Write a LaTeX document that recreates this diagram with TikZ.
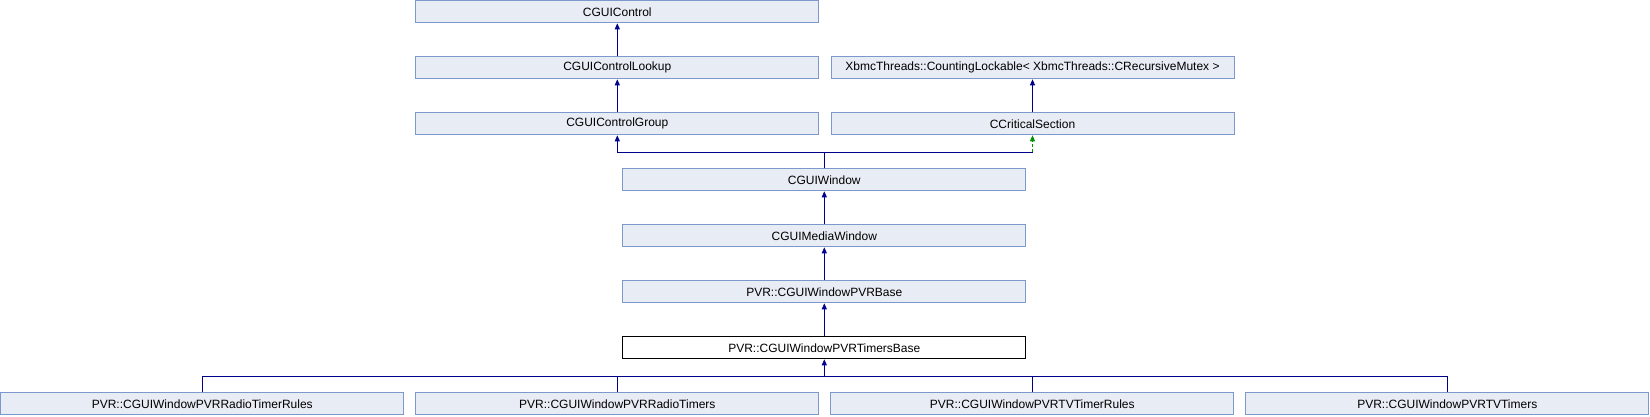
\documentclass[tikz,border=0pt]{standalone}
\usepackage{fontspec}
\setmainfont{Liberation Sans}
\usetikzlibrary{arrows.meta}
\definecolor{boxfill}{HTML}{E8ECF4}
\definecolor{boxline}{HTML}{7C98CC}
\definecolor{edgeblue}{HTML}{00008B}
\definecolor{edgegreen}{HTML}{009000}
\begin{document}
\begin{tikzpicture}[x=1pt,y=-1pt,
  cls/.style={draw=boxline, fill=boxfill, line width=1pt, minimum width=403pt, minimum height=22pt, inner sep=0pt, font=\fontsize{12}{14}\selectfont},
  cur/.style={cls, draw=black, fill=white},
  edge/.style={draw=edgeblue, line width=1pt},
  tip/.style={-{Triangle[width=5pt,length=6pt]}},
  gedge/.style={draw=edgegreen, line width=1pt, dash pattern=on 3pt off 2pt, -{Triangle[width=5pt,length=6pt,fill=edgegreen]}}
]
\useasboundingbox (0,0) rectangle (1650,416);
\node[cls] (ctrl) at (617.3,11.8) {CGUIControl};
\node[cls] (lookup) at (617.3,67.8) {CGUIControlLookup};
\node[cls] (group) at (617.3,123.8) {CGUIControlGroup};
\node[cls] (xbmc) at (1032.5,67.8) {XbmcThreads::CountingLockable< XbmcThreads::CRecursiveMutex >};
\node[cls] (crit) at (1032.5,123.8) {CCriticalSection};
\node[cls] (win) at (824.3,179.8) {CGUIWindow};
\node[cls] (media) at (824.3,235.8) {CGUIMediaWindow};
\node[cls] (base) at (824.3,291.8) {PVR::CGUIWindowPVRBase};
\node[cur] (tb) at (824.3,347.8) {PVR::CGUIWindowPVRTimersBase};
\node[cls] (b1) at (202.3,403.8) {PVR::CGUIWindowPVRRadioTimerRules};
\node[cls] (b2) at (617.3,403.8) {PVR::CGUIWindowPVRRadioTimers};
\node[cls] (b3) at (1032.3,403.8) {PVR::CGUIWindowPVRTVTimerRules};
\node[cls] (b4) at (1447.3,403.8) {PVR::CGUIWindowPVRTVTimers};
\coordinate (wj) at (824.3,152.3);
\coordinate (cj) at (1032.5,152.3);
\coordinate (tj) at (824.3,376.3);
% edges
\draw[edge,tip] (lookup.north) -- (ctrl.south);
\draw[edge,tip] (group.north) -- (lookup.south);
\draw[edge,tip] (crit.north) -- (xbmc.south);
\draw[edge,tip] (win.north) -- (wj) -| (group.south);
\draw[edge] (wj) -- (cj);
\draw[gedge] (cj) -- (crit.south);
\draw[edge,tip] (media.north) -- (win.south);
\draw[edge,tip] (base.north) -- (media.south);
\draw[edge,tip] (tb.north) -- (base.south);
\draw[edge,tip] (tj) -- (tb.south);
\draw[edge] (b1.north) |- (tj) -| (b4.north);
\draw[edge] (b2.north) -- (b2.north |- tj);
\draw[edge] (b3.north) -- (b3.north |- tj);
\end{tikzpicture}
\end{document}
